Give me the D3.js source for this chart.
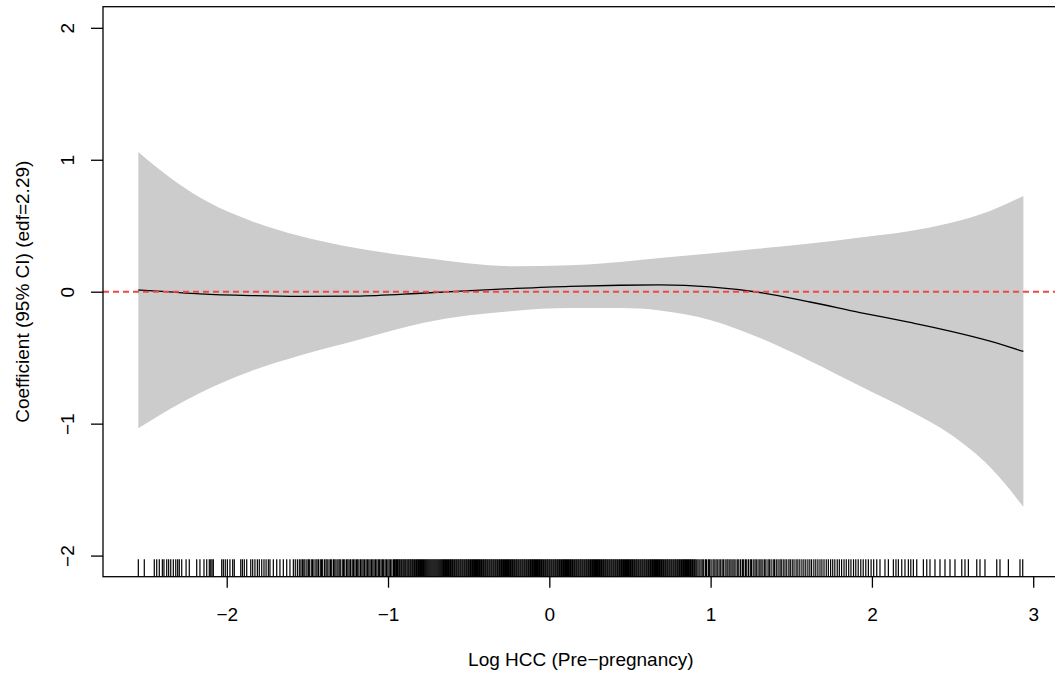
<!DOCTYPE html>
<html><head><meta charset="utf-8">
<script src="https://cdn.jsdelivr.net/npm/d3@7"></script>
<style>html,body{margin:0;padding:0;background:#fff}svg{display:block}text{font-family:"Liberation Sans",Arial,Helvetica,sans-serif;fill:#000}</style>
</head><body><svg id="c" width="1055" height="677"></svg>
<script>
// ---- data ----
const xGrid    = [-2.548,-2.352,-2.166,-1.856,-1.546,-1.199,-0.771,-0.225,0.128,0.438,0.686,0.996,1.306,1.616,1.926,2.236,2.484,2.732,2.939];
const ciUpper  = [ 1.059, 0.866, 0.714, 0.540, 0.422, 0.331, 0.255, 0.193,0.200,0.225,0.255,0.290,0.327,0.365,0.411,0.460,0.521,0.612,0.725];
const ciLower  = [-1.035,-0.889,-0.768,-0.605,-0.484,-0.370,-0.233,-0.146,-0.124,-0.124,-0.142,-0.214,-0.351,-0.525,-0.715,-0.904,-1.079,-1.329,-1.630];
const fitMean  = [ 0.013,-0.002,-0.016,-0.029,-0.035,-0.033,-0.010, 0.024,0.041,0.049,0.051,0.037,-0.006,-0.078,-0.158,-0.233,-0.298,-0.374,-0.453];

const xTicks = [-2,-1,0,1,2,3];
const yTicks = [-2,-1,0,1,2];
const refLine = 0;
const xTitle = "Log HCC (Pre\u2212pregnancy)";
const yTitle = "Coefficient (95% CI) (edf=2.29)";

const rugLow = [-2.548,-2.511,-2.449,-2.434,-2.418,-2.399,-2.389,-2.372,-2.360,-2.347,-2.331,-2.316,-2.304,-2.294,-2.279,-2.252,-2.232,-2.186,-2.166,-2.141,-2.124,-2.108,-2.099,-2.091,-2.083,-2.031,-2.021,-2.009,-1.996,-1.980,-1.963,-1.953,-1.913,-1.903,-1.891,-1.876,-1.851,-1.839,-1.825,-1.810,-1.798,-1.783,-1.769,-1.756,-1.742,-1.732,-1.711,-1.690,-1.670,-1.649,-1.628,-1.608,-1.587,-1.575,-1.562,-1.550];
const rugMidLow = [-1.540,-1.531,-1.522,-1.515,-1.503,-1.494,-1.488,-1.476,-1.468,-1.459,-1.447,-1.440,-1.431,-1.420,-1.412,-1.405,-1.393,-1.384,-1.377,-1.366,-1.357,-1.349,-1.338,-1.330,-1.322,-1.311,-1.303,-1.296,-1.284,-1.276,-1.268,-1.257,-1.249,-1.241,-1.232,-1.222,-1.214,-1.205,-1.196,-1.188,-1.180,-1.170,-1.162,-1.154,-1.145,-1.136,-1.128,-1.119,-1.111,-1.102,-1.094,-1.086,-1.077,-1.069,-1.060,-1.052,-1.043,-1.035,-1.027,-1.018,-1.010,-1.001,-0.993,-0.985,-0.976];
const rugCore = [-0.966,-0.960,-0.955,-0.948,-0.942,-0.937,-0.930,-0.925,-0.918,-0.913,-0.906,-0.900,-0.894,-0.889,-0.882,-0.876,-0.871,-0.864,-0.859,-0.852,-0.847,-0.840,-0.835,-0.828,-0.823,-0.816,-0.811,-0.804,-0.799,-0.792,-0.787,-0.780,-0.775,-0.769,-0.763,-0.757,-0.751,-0.745,-0.739,-0.733,-0.727,-0.721,-0.715,-0.709,-0.703,-0.697,-0.691,-0.685,-0.679,-0.673,-0.667,-0.661,-0.656,-0.649,-0.644,-0.637,-0.632,-0.625,-0.620,-0.613,-0.608,-0.601,-0.596,-0.589,-0.584,-0.577,-0.572,-0.565,-0.560,-0.553,-0.548,-0.541,-0.536,-0.529,-0.524,-0.517,-0.512,-0.505,-0.500,-0.493,-0.488,-0.481,-0.476,-0.469,-0.464,-0.457,-0.452,-0.445,-0.440,-0.433,-0.428,-0.421,-0.416,-0.409,-0.404,-0.397,-0.392,-0.385,-0.380,-0.373,-0.368,-0.361,-0.356,-0.349,-0.344,-0.337,-0.332,-0.325,-0.320,-0.313,-0.308,-0.301,-0.296,-0.289,-0.284,-0.277,-0.272,-0.265,-0.260,-0.253,-0.248,-0.241,-0.236,-0.229,-0.224,-0.217,-0.212,-0.205,-0.200,-0.193,-0.188,-0.181,-0.176,-0.169,-0.164,-0.157,-0.152,-0.145,-0.140,-0.133,-0.128,-0.121,-0.116,-0.109,-0.104,-0.097,-0.092,-0.085,-0.080,-0.073,-0.068,-0.061,-0.056,-0.049,-0.044,-0.037,-0.032,-0.025,-0.020,-0.013,-0.008,-0.001,0.004,0.011,0.016,0.023,0.028,0.035,0.040,0.047,0.052,0.059,0.064,0.071,0.076,0.083,0.088,0.095,0.100,0.107,0.112,0.119,0.124,0.131,0.136,0.143,0.148,0.155,0.160,0.167,0.172,0.179,0.184,0.191,0.196,0.203,0.208,0.215,0.220,0.227,0.232,0.239,0.244,0.251,0.256,0.263,0.268,0.275,0.280,0.287,0.292,0.299,0.304,0.311,0.316,0.323,0.328,0.335,0.340,0.347,0.352,0.359,0.364,0.371,0.376,0.383,0.388,0.395,0.400,0.407,0.412,0.419,0.424,0.431,0.436,0.443,0.448,0.455,0.460,0.467,0.472,0.479,0.484,0.491,0.496,0.503,0.508,0.515,0.520,0.527,0.532,0.539,0.544,0.551,0.556,0.563,0.568,0.575,0.580,0.587,0.592,0.599,0.604,0.611,0.616,0.623,0.628,0.635,0.640,0.647,0.652,0.659,0.664,0.671,0.676,0.683,0.688,0.695,0.700,0.707,0.712,0.719,0.724,0.731,0.736,0.743,0.748,0.755,0.760,0.767,0.772,0.779,0.784,0.791,0.796,0.803,0.808,0.815,0.820,0.827,0.832,0.839,0.844,0.851,0.856,0.863,0.868,0.875,0.880,0.887,0.892,0.899,0.904,0.911];
const rugMidHigh = [0.921,0.929,0.940,0.948,0.957,0.968,0.975,0.986,0.994,1.003,1.015,1.022,1.033,1.041,1.052,1.060,1.071,1.079,1.090,1.101,1.108,1.119,1.127,1.138,1.146,1.157,1.168,1.175,1.186,1.197,1.205,1.216,1.224,1.235,1.246,1.253,1.264,1.275,1.283,1.294,1.305,1.313,1.324,1.335,1.343,1.356,1.364,1.375,1.388,1.396,1.407,1.418,1.430,1.438,1.450,1.461,1.472,1.485,1.494,1.506,1.517,1.530,1.541,1.553,1.566,1.578,1.590,1.603,1.615,1.626,1.640,1.652,1.665,1.678,1.690,1.703,1.717,1.730,1.744,1.757,1.770,1.785,1.798,1.812,1.827,1.841,1.856,1.870,1.886,1.900,1.915,1.931,1.946,1.962,1.978,1.995,2.011];
const rugHigh = [2.030,2.050,2.081,2.102,2.133,2.149,2.164,2.185,2.205,2.226,2.241,2.257,2.278,2.319,2.340,2.360,2.391,2.422,2.453,2.484,2.515,2.557,2.577,2.598,2.650,2.670,2.701,2.774,2.794,2.846,2.918,2.935];

// ---- drawing ----
const svg = d3.select("#c");
const x = d3.scaleLinear().domain([-2.767, 3.158]).range([103, 1058.7]);
const y = d3.scaleLinear().domain([-2.16, 2.16]).range([576.7, 6.7]);
const fmt = d => d < 0 ? "\u2212" + Math.abs(d) : String(d);

svg.append("defs").append("clipPath").attr("id","plotclip")
  .append("rect").attr("x",103).attr("y",6.7).attr("width",955.7).attr("height",570);

const pts = xGrid.map((v,i)=>({x:v, lo:ciLower[i], hi:ciUpper[i], m:fitMean[i]}));
const plot = svg.append("g").attr("clip-path","url(#plotclip)");
const curve = d3.curveMonotoneX;

plot.append("path").datum(pts)
  .attr("d", d3.area().x(d=>x(d.x)).y0(d=>y(d.lo)).y1(d=>y(d.hi)).curve(curve))
  .attr("fill","#cccccc").attr("stroke","none");

plot.append("path").datum(pts)
  .attr("d", d3.line().x(d=>x(d.x)).y(d=>y(d.m)).curve(curve))
  .attr("fill","none").attr("stroke","#000").attr("stroke-width",1.3);

plot.append("line")
  .attr("x1", x(x.domain()[0])).attr("x2", x(x.domain()[1]))
  .attr("y1", y(refLine)).attr("y2", y(refLine))
  .attr("stroke","#f04646").attr("stroke-width",2).attr("stroke-dasharray","6,4");

const rug = [].concat(rugLow, rugMidLow, rugCore, rugMidHigh, rugHigh);
plot.append("g").selectAll("line").data(rug).join("line")
  .attr("x1", d=>x(d)).attr("x2", d=>x(d))
  .attr("y1", y(-2.16) - 17.4).attr("y2", y(-2.16))
  .attr("stroke","#000").attr("stroke-width",1.2);

// box
svg.append("rect").attr("x",103).attr("y",6.7).attr("width",955.7).attr("height",570)
  .attr("fill","none").attr("stroke","#000").attr("stroke-width",1.3);

// axes
const gx = svg.append("g").attr("transform","translate(0,576.7)")
  .call(d3.axisBottom(x).tickValues(xTicks).tickSize(11).tickFormat(fmt));
gx.select(".domain").remove();
gx.selectAll(".tick line").attr("stroke","#000").attr("stroke-width",1.3);
gx.selectAll(".tick text").attr("y",44).attr("dy",0).attr("font-size",19).attr("fill","#000")
  .style("font-family","'Liberation Sans',Arial,Helvetica,sans-serif");

const gy = svg.append("g").attr("transform","translate(103,0)")
  .call(d3.axisLeft(y).tickValues(yTicks).tickSize(12).tickFormat(fmt));
gy.select(".domain").remove();
gy.selectAll(".tick line").attr("stroke","#000").attr("stroke-width",1.3);
gy.selectAll(".tick text").attr("x",null).attr("dy",null)
  .attr("transform","translate(-36,0) rotate(-90)")
  .attr("text-anchor","middle").attr("dy","0.35em").attr("font-size",19).attr("fill","#000")
  .style("font-family","'Liberation Sans',Arial,Helvetica,sans-serif");

svg.append("text").attr("x",(103+1058.7)/2).attr("y",666).attr("text-anchor","middle")
  .attr("font-size",19).text(xTitle);
svg.append("text").attr("transform",`translate(29,${(6.7+576.7)/2}) rotate(-90)`)
  .attr("text-anchor","middle").attr("font-size",19).text(yTitle);
</script></body></html>
